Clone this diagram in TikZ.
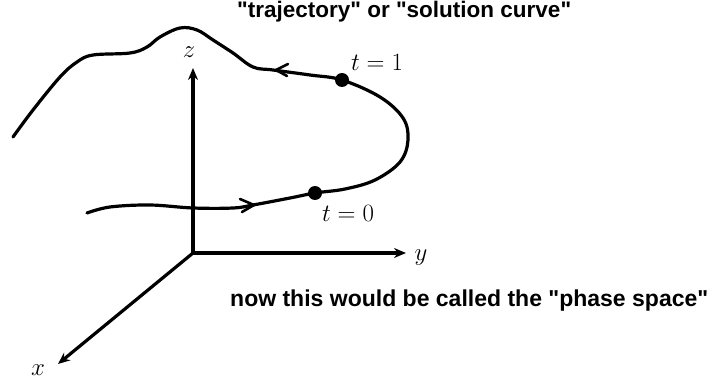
\documentclass[tikz,border=0pt]{standalone}
\usepackage{fontspec}
\newfontfamily\labelfont{Liberation Sans}
\usepackage{tikz}
\usetikzlibrary{arrows.meta,calc,positioning}

\begin{document}
\begin{tikzpicture}[x=1pt,y=-1pt,
  axis/.style={line width=3.2pt,-{Stealth[length=12pt,width=10pt]}},
  curve/.style={line width=3.2pt,line cap=round,line join=round},
  chevron/.style={line width=2.6pt,line cap=round},
  caption/.style={font=\labelfont\bfseries\fontsize{22.5}{26}\selectfont,inner sep=0pt},
  axlabel/.style={font=\fontsize{24}{28}\selectfont,inner sep=0pt}]
\useasboundingbox (0,0) rectangle (711,379);
% axes
\coordinate (O) at (193,253);
\coordinate (zend) at (193,68);
\coordinate (yend) at (406,253);
\coordinate (xend) at (58,364);
\draw[axis] (O) -- (zend);
\draw[axis] (O) -- (yend);
\draw[axis] (O) -- (xend);
\node[axlabel] (zlab) at (189,52) {$z$};
\node[axlabel] (ylab) at (421,258) {$y$};
\node[axlabel] (xlab) at (38,370) {$x$};
% trajectory
\draw[curve] plot[smooth,tension=0.6] coordinates {
  (13,137) (33,110) (60,77) (77,62) (93,55) (130,53) (147,47) (160,37)
  (180,28) (197,30) (213,40) (233,53) (253,67) (273,70) (310,75) (342,80)
  (380,97) (403,118) (408,140) (400,162) (375,180) (345,189) (315,193)
  (290,198) (253,205) (233,208) (193,208) (150,205) (110,207) (87,213)};
\draw[chevron] (288,64) -- (276,70) -- (287,76);
\draw[chevron] (240,199) -- (254,205) -- (242,212);
\fill (342,80) circle (7pt);
\fill (315,193) circle (7pt);
\node[axlabel] (tone) at (377,62) {$t=1$};
\node[axlabel] (tzero) at (348,213) {$t=0$};
% captions
\node[caption,anchor=west] (traj) at (237,12) {"trajectory" or "solution curve"};
\node[caption,anchor=west,font=\labelfont\bfseries\fontsize{23}{26}\selectfont] (phase) at (230,301) {now this would be called the "phase space"};
\end{tikzpicture}
\end{document}
